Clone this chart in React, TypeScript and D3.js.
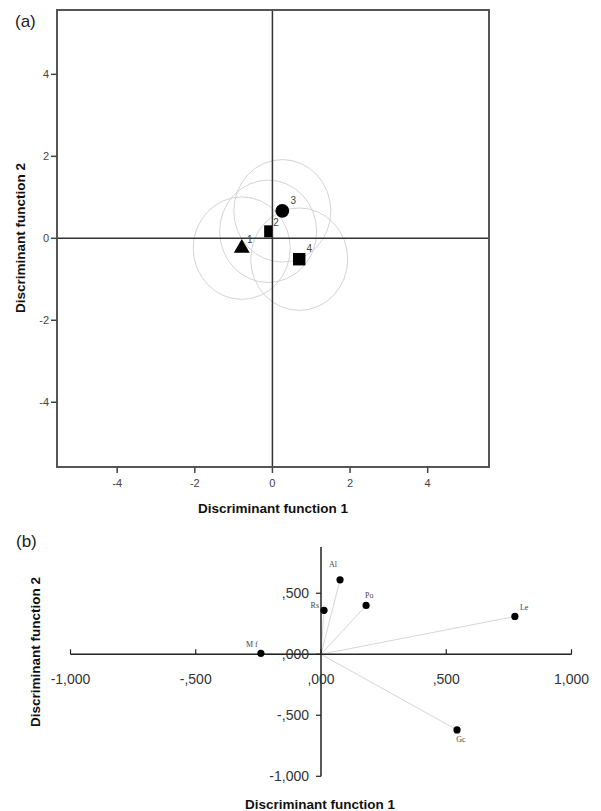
import React from "react";
import * as d3 from "d3";

// ---------- Panel (a) data ----------
const groupIds = ["1", "2", "3", "4"];
const groupX = [-0.79, -0.11, 0.255, 0.69];
const groupY = [-0.24, 0.17, 0.67, -0.51];
const groupShape = ["triangle", "rect", "circle", "square"];
const groupRadius = [1.25, 1.25, 1.25, 1.25];
const ticksA = [-4, -2, 0, 2, 4];

// ---------- Panel (b) data ----------
const varNames = ["Al", "Po", "Rs", "Le", "Gc", "M f"];
const varX = [0.076, 0.18, 0.012, 0.774, 0.543, -0.24];
const varY = [0.61, 0.40, 0.36, 0.31, -0.62, 0.008];
const ticksBX = [-1, -0.5, 0, 0.5, 1];
const ticksBY = [0.5, 0, -0.5, -1];

const W = 601;
const H = 811;

const sans = "'Liberation Sans', Arial, sans-serif";
const serif = "'Liberation Serif', 'Times New Roman', serif";

function fmtB(v: number): string {
  return d3
    .format(".3f")(v)
    .replace("\u2212", "-")
    .replace(".", ",")
    .replace(/^(-?)0,/, "$1,");
}

export default function App() {
  // panel (a) scales
  const xA = d3.scaleLinear().domain([-5.55, 5.58]).range([57, 489]);
  const yA = d3.scaleLinear().domain([-5.58, 5.57]).range([467, 10]);

  // panel (b) scales
  const xB = d3.scaleLinear().domain([-1, 1]).range([70.5, 571.5]);
  const yB = d3.scaleLinear().domain([-1, 0.88]).range([776.3, 546.9]);

  const tri = d3.symbol().type(d3.symbolTriangle).size(110)();
  const circ = d3.symbol().type(d3.symbolCircle).size(150)();
  const sq = d3.symbol().type(d3.symbolSquare).size(155)();

  const labelOffsetsA = [
    [8, -9],
    [8, -9],
    [11, -11],
    [10, -11],
  ];

  const labelOffsetsB: [number, number, string][] = [
    [-7, -13, "middle"],
    [-1, -7, "start"],
    [-5, -2, "end"],
    [5, -6, "start"],
    [4, 12, "middle"],
    [-9, -6, "middle"],
  ];

  return (
    <svg
      width={W}
      height={H}
      style={{ position: "absolute", left: 0, top: 0, background: "#fff" }}
      xmlns="http://www.w3.org/2000/svg"
    >
      <rect x={0} y={0} width={W} height={H} fill="#fff" />

      {/* ================= Panel (a) ================= */}
      <text x={15} y={27} fontFamily={sans} fontSize={17} fill="#222">
        (a)
      </text>

      {/* circles */}
      {groupX.map((gx, i) => (
        <ellipse
          key={"c" + i}
          cx={xA(gx)}
          cy={yA(groupY[i])}
          rx={xA(gx + groupRadius[i]) - xA(gx)}
          ry={yA(groupY[i]) - yA(groupY[i] + groupRadius[i])}
          fill="none"
          stroke="#d4d4d4"
          strokeWidth={1}
        />
      ))}

      {/* zero lines */}
      <line x1={xA(0)} x2={xA(0)} y1={yA.range()[1]} y2={yA.range()[0]} stroke="#333" strokeWidth={1.5} />
      <line x1={xA.range()[0]} x2={xA.range()[1]} y1={yA(0)} y2={yA(0)} stroke="#333" strokeWidth={1.5} />

      {/* frame */}
      <rect
        x={xA.range()[0]}
        y={yA.range()[1]}
        width={xA.range()[1] - xA.range()[0]}
        height={yA.range()[0] - yA.range()[1]}
        fill="none"
        stroke="#555"
        strokeWidth={2}
      />

      {/* x ticks */}
      {ticksA.map((t) => (
        <g key={"xa" + t}>
          <line x1={xA(t)} x2={xA(t)} y1={467} y2={473} stroke="#444" strokeWidth={1.5} />
          <text x={xA(t)} y={487} textAnchor="middle" fontFamily={sans} fontSize={11} fill="#444">
            {String(t)}
          </text>
        </g>
      ))}
      {/* y ticks */}
      {ticksA.map((t) => (
        <g key={"ya" + t}>
          <line x1={51} x2={57} y1={yA(t)} y2={yA(t)} stroke="#444" strokeWidth={1.5} />
          <text x={49} y={yA(t) + 4} textAnchor="end" fontFamily={sans} fontSize={11} fill="#444">
            {String(t)}
          </text>
        </g>
      ))}

      {/* markers */}
      {groupX.map((gx, i) => {
        const px = xA(gx);
        const py = yA(groupY[i]);
        const shape = groupShape[i];
        let el: React.ReactNode;
        if (shape === "triangle") el = <path d={tri || ""} transform={`translate(${px},${py})`} fill="#000" />;
        else if (shape === "circle") el = <path d={circ || ""} transform={`translate(${px},${py})`} fill="#000" />;
        else if (shape === "square") el = <path d={sq || ""} transform={`translate(${px},${py})`} fill="#000" />;
        else el = <rect x={px - 4} y={py - 6} width={8} height={12} fill="#000" />;
        return (
          <g key={"m" + i}>
            {el}
            <text
              x={px + labelOffsetsA[i][0]}
              y={py + labelOffsetsA[i][1] + 4}
              textAnchor="middle"
              fontFamily={sans}
              fontSize={10}
              fill="#444"
            >
              {groupIds[i]}
            </text>
          </g>
        );
      })}

      {/* axis titles (a) */}
      <text x={273} y={513} textAnchor="middle" fontFamily={sans} fontWeight="bold" fontSize={13.5} fill="#111">
        Discriminant function 1
      </text>
      <text
        transform={`translate(25,238) rotate(-90)`}
        textAnchor="middle"
        fontFamily={sans}
        fontWeight="bold"
        fontSize={13.5}
        fill="#111"
      >
        Discriminant function 2
      </text>

      {/* ================= Panel (b) ================= */}
      <text x={16} y={547} fontFamily={sans} fontSize={17} fill="#222">
        (b)
      </text>

      {/* vectors */}
      {varX.map((vx, i) => (
        <line
          key={"v" + i}
          x1={xB(0)}
          y1={yB(0)}
          x2={xB(vx)}
          y2={yB(varY[i])}
          stroke="#d6d6d6"
          strokeWidth={1}
        />
      ))}

      {/* axes */}
      <line x1={xB(-1)} x2={xB(1)} y1={yB(0)} y2={yB(0)} stroke="#222" strokeWidth={1.5} />
      <line x1={xB(0)} x2={xB(0)} y1={yB(0.88)} y2={yB(-1)} stroke="#222" strokeWidth={1.5} />

      {ticksBX.map((t) => (
        <g key={"xb" + t}>
          <line x1={xB(t)} x2={xB(t)} y1={yB(0)} y2={yB(0) - 5} stroke="#222" strokeWidth={1.2} />
          <text x={xB(t)} y={684} textAnchor="middle" fontFamily={sans} fontSize={14} fill="#333">
            {fmtB(t)}
          </text>
        </g>
      ))}
      {ticksBY.map((t) => (
        <g key={"yb" + t}>
          <line x1={xB(0) - 5} x2={xB(0)} y1={yB(t)} y2={yB(t)} stroke="#222" strokeWidth={1.2} />
          <text x={xB(0) - 12} y={yB(t) + 5} textAnchor="end" fontFamily={sans} fontSize={14} fill="#333">
            {fmtB(t)}
          </text>
        </g>
      ))}

      {/* points */}
      {varX.map((vx, i) => (
        <g key={"p" + i}>
          <circle cx={xB(vx)} cy={yB(varY[i])} r={3.6} fill="#000" />
          <text
            x={xB(vx) + labelOffsetsB[i][0]}
            y={yB(varY[i]) + labelOffsetsB[i][1]}
            textAnchor={labelOffsetsB[i][2] as any}
            fontFamily={serif}
            fontSize={8}
            fill="#444"
          >
            {varNames[i]}
          </text>
        </g>
      ))}

      {/* axis titles (b) */}
      <text x={320} y={809} textAnchor="middle" fontFamily={sans} fontWeight="bold" fontSize={13.5} fill="#111">
        Discriminant function 1
      </text>
      <text
        transform={`translate(40,652) rotate(-90)`}
        textAnchor="middle"
        fontFamily={sans}
        fontWeight="bold"
        fontSize={13.5}
        fill="#111"
      >
        Discriminant function 2
      </text>
    </svg>
  );
}
